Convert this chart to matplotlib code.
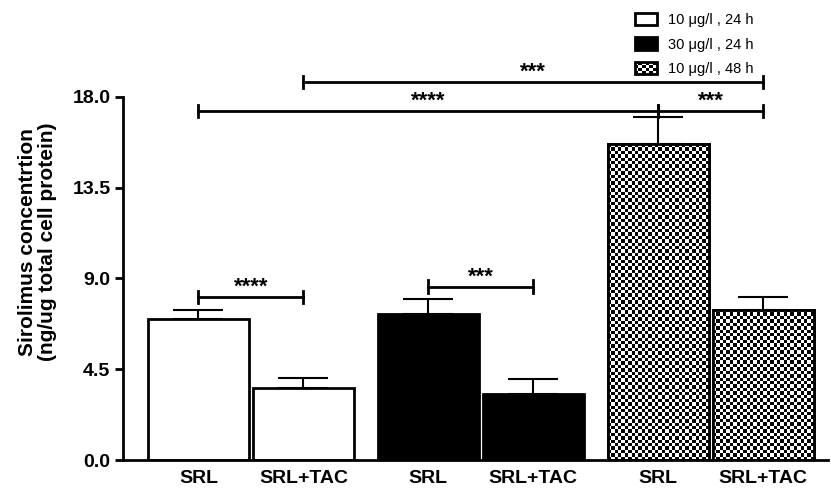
import numpy as np
import matplotlib.pyplot as plt
from matplotlib.patches import Rectangle
from matplotlib.legend_handler import HandlerBase

plt.rcParams['font.family'] = ['Liberation Sans', 'DejaVu Sans']

# data
bar_labels = ['SRL', 'SRL+TAC', 'SRL', 'SRL+TAC', 'SRL', 'SRL+TAC']
groups = ['10 \u03bcg/l , 24 h', '30 \u03bcg/l , 24 h', '10 \u03bcg/l , 48 h']
means = [7.0, 3.55, 7.25, 3.25, 15.65, 7.45]
errs = [0.45, 0.5, 0.75, 0.75, 1.35, 0.65]
# significance brackets: (bar a, bar b, height, stars)
brackets = [(0, 1, 8.1, '****'), (2, 3, 8.6, '***'), (0, 4, 17.3, '****'),
            (4, 5, 17.3, '***'), (1, 5, 18.75, '***')]
yticks = [0.0, 4.5, 9.0, 13.5, 18.0]

fig = plt.figure(figsize=(8.31, 4.9), dpi=100)
ax = fig.add_axes([0.148, 0.0612, 0.848, 0.741])

x = np.array([i % 2 + (i // 2) * 2.19 for i in range(6)])
w = 0.962
ax.set_xlim(-0.719, 5.995)
ax.set_ylim(0, 18)

fills = ['white', 'black', 'checker']


def checker(nr, nc):
    return (np.indices((nr, nc)).sum(axis=0) % 2).astype(float)


for i in range(6):
    f = fills[i // 2]
    fc = 'black' if f == 'black' else 'white'
    b = ax.bar(x[i], means[i], width=w, color=fc, edgecolor='black', linewidth=2, zorder=2)[0]
    if f == 'checker':
        # checkerboard fill, ~3.4 px cells
        p0 = ax.transData.transform((x[i] - w / 2, 0))
        p1 = ax.transData.transform((x[i] + w / 2, means[i]))
        nc = int(round((p1[0] - p0[0]) / 3.4))
        nr = int(round((p1[1] - p0[1]) / 3.4))
        im = ax.imshow(checker(nr, nc), cmap='gray', interpolation='nearest', aspect='auto',
                       extent=(x[i] - w / 2, x[i] + w / 2, 0, means[i]), zorder=2.5)
        im.set_clip_path(b)
        ax.bar(x[i], means[i], width=w, fill=False, edgecolor='black', linewidth=2, zorder=3)
    ax.errorbar(x[i], means[i], yerr=[[0], [errs[i]]], color='black', elinewidth=1.5,
                capsize=18, capthick=1.5, zorder=1)

ax.set_aspect('auto')
ax.set_xlim(-0.719, 5.995)
ax.set_ylim(0, 18)

for a, bb, h, s in brackets:
    ax.plot([x[a], x[bb]], [h, h], color='black', lw=2, clip_on=False, zorder=4)
    for xe in (x[a], x[bb]):
        ax.plot([xe, xe], [h - 0.3, h + 0.3], color='black', lw=2, clip_on=False, zorder=4)
    ax.text((x[a] + x[bb]) / 2, h + 0.2, s, ha='center', va='baseline', fontsize=16,
            fontweight='bold', clip_on=False)

ax.spines['top'].set_visible(False)
ax.spines['right'].set_visible(False)
ax.spines['left'].set_linewidth(2)
ax.spines['bottom'].set_linewidth(2)
ax.set_yticks(yticks)
ax.set_yticklabels(['%.1f' % v for v in yticks], fontsize=14, fontweight='bold')
ax.tick_params(axis='y', length=6, width=2, pad=3)
ax.set_xticks(x)
ax.set_xticklabels(bar_labels, fontsize=14, fontweight='bold')
ax.tick_params(axis='x', length=0, pad=7)
ax.set_ylabel('Sirolimus concentrtion\n(ng/ug total cell protein)', fontsize=15,
              fontweight='bold', linespacing=1.05)
ax.yaxis.set_label_coords(-0.094, 0.6)


class CheckerHandler(HandlerBase):
    def create_artists(self, legend, orig, xd, yd, width, height, fontsize, trans):
        arts = [Rectangle((-xd, -yd), width, height, facecolor='white', edgecolor='black',
                          lw=2, transform=trans)]
        nc, nr = 6, 4
        cw, ch = width / nc, height / nr
        for r in range(nr):
            for c in range(nc):
                if (r + c) % 2 == 0:
                    arts.append(Rectangle((-xd + c * cw, -yd + r * ch), cw, ch,
                                          facecolor='black', lw=0, transform=trans))
        return arts


handles = [Rectangle((0, 0), 1, 1, facecolor='white', edgecolor='black', lw=2),
           Rectangle((0, 0), 1, 1, facecolor='black', edgecolor='black', lw=2),
           Rectangle((0, 0), 1, 1, facecolor='white', edgecolor='black', lw=2)]
fig.legend(handles, groups, loc='upper left', bbox_to_anchor=(0.748, 1.0), frameon=False,
           fontsize=10.5, handlelength=1.5, handleheight=0.9, labelspacing=0.7,
           handletextpad=0.75, handler_map={handles[2]: CheckerHandler()})

fig.savefig('out.png', dpi=100)
